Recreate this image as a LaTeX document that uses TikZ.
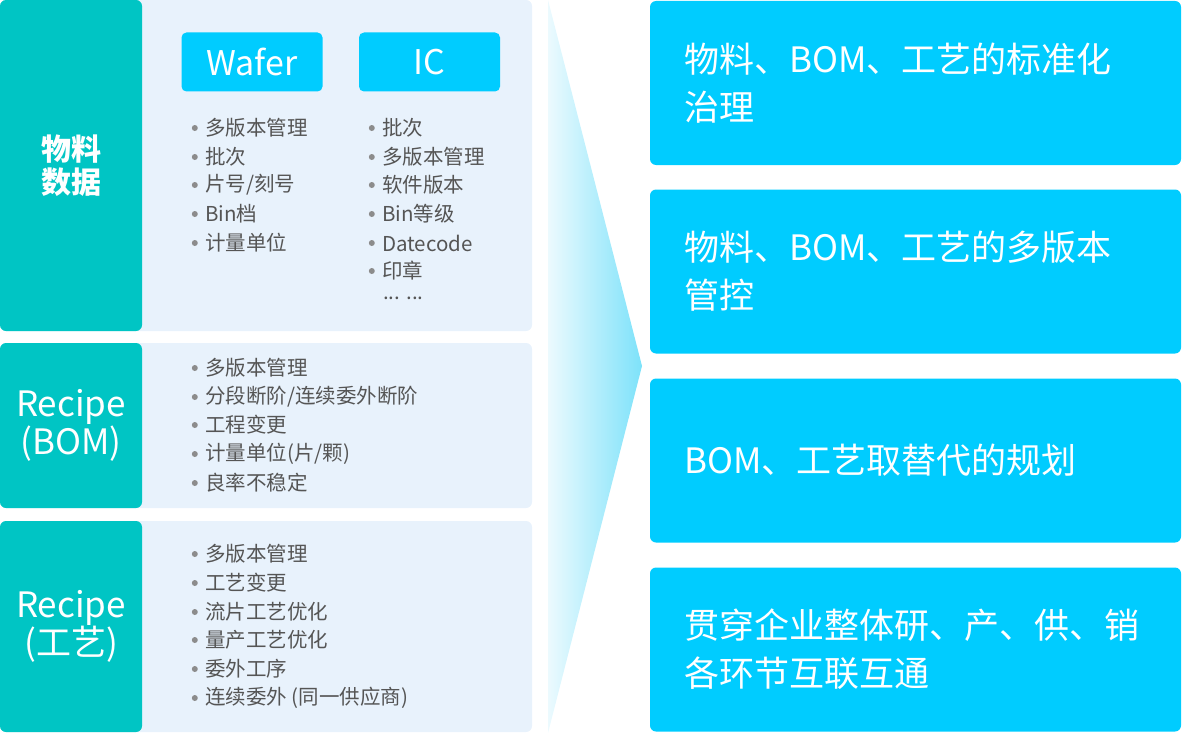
\documentclass[tikz,border=0pt]{standalone}
\usepackage{fontspec}
\setmainfont{Noto Sans CJK SC}
\definecolor{teal1}{RGB}{0,197,196}
\definecolor{pale1}{RGB}{232,242,252}
\definecolor{cyan1}{RGB}{0,204,255}
\definecolor{gray1}{RGB}{85,85,85}
\definecolor{gray2}{RGB}{140,140,140}
\definecolor{fade1}{RGB}{236,250,254}
\definecolor{fade2}{RGB}{125,226,250}

\begin{document}
\begin{tikzpicture}[x=1pt,y=-1pt]
    \tikzstyle{panel} = [fill=pale1,draw=none,rounded corners=6,minimum width=532,inner sep=0]
    \tikzstyle{side}  = [fill=teal1,draw=none,rounded corners=6,minimum width=142,inner sep=0,text=white,align=center]
    \tikzstyle{tag}   = [fill=cyan1,draw=none,rounded corners=5,minimum width=141,minimum height=59,text=white,font=\fontsize{34}{34}\selectfont]
    \tikzstyle{dot}   = [circle,fill=gray2,inner sep=0,minimum size=6]
    \tikzstyle{item}  = [anchor=west,inner sep=0,text=gray1,font=\fontsize{20.5}{24}\selectfont,label={[dot,label distance=7]left:{}}]
    \tikzstyle{goal}  = [fill=cyan1,draw=none,rounded corners=6,minimum width=531,minimum height=164,inner sep=0,text width=462,align=left,text=white,font=\fontsize{35}{48}\selectfont]
    \useasboundingbox (0,0) rectangle (1182,733);

    \node[panel,minimum height=331] (pan1)  at (266,165.5) {};
    \node[panel,minimum height=165] (pan2)  at (266,425.5) {};
    \node[panel,minimum height=211] (pan3)  at (266,626.5) {};
    \node[side,minimum height=331,font=\bfseries\fontsize{30}{33}\selectfont] (mat)  at (71,165.5) {物料\\数据};
    \node[side,minimum height=165,font=\fontsize{35}{35}\selectfont]          (bom)  at (71,425.5) {Recipe\\(BOM)};
    \node[side,minimum height=211,font=\fontsize{35}{35}\selectfont]          (rec)  at (71,626.5) {Recipe\\(工艺)};

    \node[tag] (wafer) at (252,62)   {Wafer};
    \node[tag] (ic)    at (429.5,62) {IC};

    \node[item] (w1) at (205,128) {多版本管理};
    \node[item] (w2) at (205,157) {批次};
    \node[item] (w3) at (205,185) {片号/刻号};
    \node[item] (w4) at (205,214) {Bin档};
    \node[item] (w5) at (205,243) {计量单位};

    \node[item] (c1) at (382,128) {批次};
    \node[item] (c2) at (382,157) {多版本管理};
    \node[item] (c3) at (382,185) {软件版本};
    \node[item] (c4) at (382,214) {Bin等级};
    \node[item] (c5) at (382,243) {Datecode};
    \node[item] (c6) at (382,271) {印章};
    \node[anchor=west,inner sep=0,text=gray1,font=\fontsize{20.5}{24}\selectfont] (more) at (383,298) {... ...};

    \node[item] (b1) at (205,368) {多版本管理};
    \node[item] (b2) at (205,397) {分段断阶/连续委外断阶};
    \node[item] (b3) at (205,425) {工程变更};
    \node[item] (b4) at (205,454) {计量单位(片/颗)};
    \node[item] (b5) at (205,483) {良率不稳定};

    \node[item] (r1) at (205,554) {多版本管理};
    \node[item] (r2) at (205,583) {工艺变更};
    \node[item] (r3) at (205,612) {流片工艺优化};
    \node[item] (r4) at (205,640) {量产工艺优化};
    \node[item] (r5) at (205,669) {委外工序};
    \node[item] (r6) at (205,698) {连续委外 (同一供应商)};

    \shade[left color=fade1,right color=fade2] (548,0) -- (642,366) -- (548,733) -- cycle;

    \node[goal] (g1) at (915.5,83)    {物料、BOM、工艺的标准化\\治理};
    \node[goal] (g2) at (915.5,271.5) {物料、BOM、工艺的多版本\\管控};
    \node[goal] (g3) at (915.5,460.5) {BOM、工艺取替代的规划};
    \node[goal] (g4) at (915.5,649.5) {贯穿企业整体研、产、供、销\\各环节互联互通};
\end{tikzpicture}
\end{document}
